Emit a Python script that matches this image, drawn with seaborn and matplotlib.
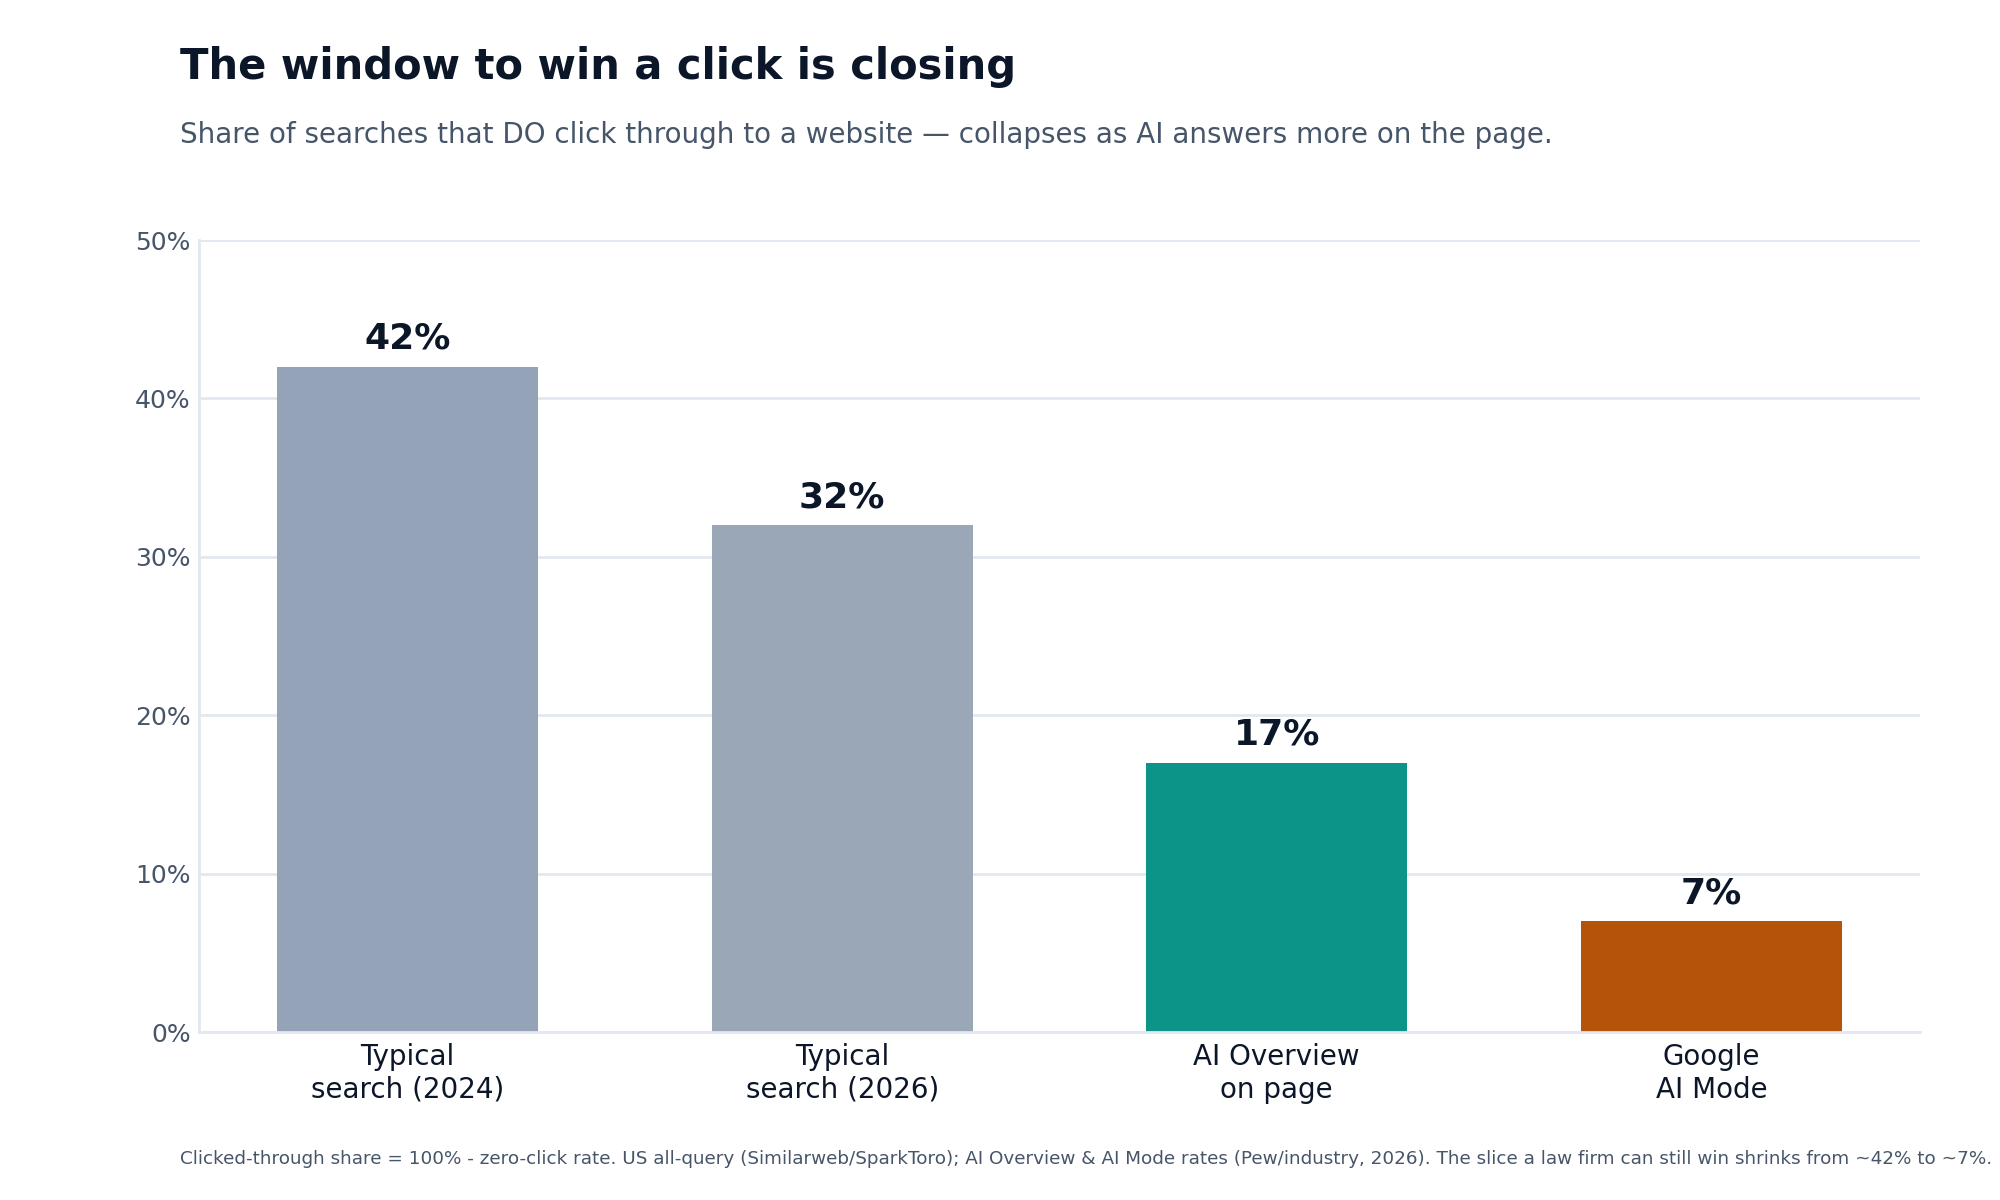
import pandas as pd
import seaborn as sns
import matplotlib.pyplot as plt
from matplotlib.ticker import FuncFormatter

categories = ['Typical\nsearch (2024)', 'Typical\nsearch (2026)', 'AI Overview\non page', 'Google\nAI Mode']
click_share = [42, 32, 17, 7]
bar_colors = ['#94A3B8', '#9AA7B6', '#0D9488', '#B45309']

title = 'The window to win a click is closing'
subtitle = 'Share of searches that DO click through to a website \u2014 collapses as AI answers more on the page.'
footnote = ('Clicked-through share = 100% - zero-click rate. US all-query (Similarweb/SparkToro); '
            'AI Overview & AI Mode rates (Pew/industry, 2026). '
            'The slice a law firm can still win shrinks from ~42% to ~7%.')

dark = '#0B1628'
muted = '#475569'
grid = '#E2E8F0'


def draw():
    df = pd.DataFrame({'category': categories, 'share': click_share})

    fig = plt.figure(figsize=(10, 6), dpi=200)
    ax = fig.add_axes([0.0995, 0.14, 0.8605, 0.66])

    sns.barplot(data=df, x='category', y='share', hue='category',
                palette=dict(zip(categories, bar_colors)), width=0.6,
                saturation=1, legend=False, ax=ax, zorder=2, linewidth=0)

    for bar, val in zip(ax.patches, click_share):
        ax.annotate(f'{val}%', (bar.get_x() + bar.get_width() / 2, bar.get_height()),
                    xytext=(0, 4), textcoords='offset points', ha='center', va='bottom',
                    fontsize=13, fontweight='bold', color=dark)

    ax.set_ylim(0, 50)
    ax.set_xlim(-0.48, 3.48)
    ax.set_yticks(range(0, 51, 10))
    ax.yaxis.set_major_formatter(FuncFormatter(lambda v, _: f'{v:.0f}%'))
    ax.set_xlabel('')
    ax.set_ylabel('')
    ax.grid(axis='y', color=grid, linewidth=1, zorder=0)
    ax.set_axisbelow(True)
    ax.tick_params(axis='y', length=0, labelsize=9, labelcolor=muted, pad=3)
    ax.tick_params(axis='x', length=0, labelsize=10, labelcolor=dark, pad=4)
    for s in ['top', 'right']:
        ax.spines[s].set_visible(False)
    for s in ['left', 'bottom']:
        ax.spines[s].set_color(grid)
        ax.spines[s].set_linewidth(1)

    fig.text(0.09, 0.962, title, fontsize=15, fontweight='bold', color=dark, va='top')
    fig.text(0.09, 0.899, subtitle, fontsize=10, color=muted, va='top')
    fig.text(0.09, 0.042, footnote, fontsize=6.6, color=muted, va='top')

    fig.savefig('out.png', dpi=200, facecolor='white')


if __name__ == '__main__':
    sns.set_theme(style='white')
    plt.rcParams['font.family'] = ['DejaVu Sans']
    draw()
